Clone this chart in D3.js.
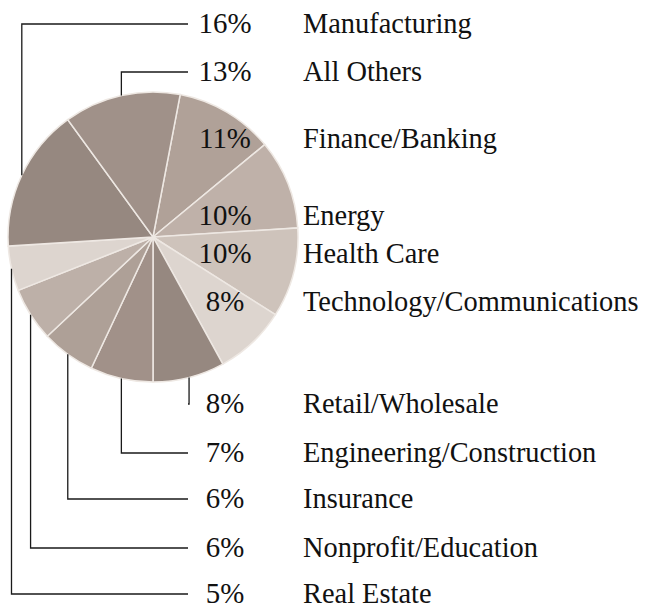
<!DOCTYPE html>
<html>
<head>
    <title>Share by Industry</title>
    <style>
        body {
            margin: 0;
            background: #fff;
        }
        .slice {
            stroke: #eee8e3;
            stroke-width: 1.5;
        }
        .leader {
            fill: none;
            stroke: #1a1a1a;
            stroke-width: 1.3;
        }
        .pct, .cat {
            font-family: "Liberation Serif", "DejaVu Serif", "Times New Roman", serif;
            fill: #111;
        }
        .pct {
            font-size: 30px;
            text-anchor: middle;
        }
        .cat {
            font-size: 28px;
        }
    </style>
</head>
<body>
    <svg id="pie-chart" width="646" height="609"></svg>

    <script src="https://d3js.org/d3.v7.min.js"></script>
    <script>
        // Slices in clockwise order, starting just right of 12 o'clock
        const categories = ['Finance/Banking', 'Energy', 'Health Care', 'Technology/Communications',
            'Retail/Wholesale', 'Engineering/Construction', 'Insurance', 'Nonprofit/Education',
            'Real Estate', 'Manufacturing', 'All Others'];
        const shares = [11, 10, 10, 8, 8, 7, 6, 6, 5, 16, 13];
        const sliceColors = ['#b0a198', '#bfb1a9', '#cec3bb', '#ddd5cf', '#968880', '#a19189',
            '#aea097', '#bdb0a8', '#ddd5cf', '#968880', '#a09189'];

        // layout: baseline of each label row, and which rows get a leader line
        const labelRows = [148, 225, 263, 311, 413, 462, 508, 557, 603, 33, 81];
        const outside = [false, false, false, false, true, true, true, true, true, true, true];

        const svg = d3.select('#pie-chart');
        const cx = 153, cy = 237, radius = 145;
        const pctX = 225, catX = 303, leaderEnd = 188;

        const slices = categories.map((c, i) => ({ category: c, share: shares[i], color: sliceColors[i], row: labelRows[i], outside: outside[i] }));

        const start = 0.03 * 2 * Math.PI;
        const pie = d3.pie().sort(null).value(d => d.share).startAngle(start).endAngle(start + 2 * Math.PI);
        const arc = d3.arc().innerRadius(0).outerRadius(radius);
        const arcs = pie(slices);

        const g = svg.append('g').attr('transform', `translate(${cx},${cy})`);

        g.selectAll('.slice')
            .data(arcs)
            .enter().append('path')
            .attr('class', 'slice')
            .attr('d', arc)
            .attr('fill', d => d.data.color);

        // leader lines: from the rim at mid angle, straight down/up, then across to the label
        svg.selectAll('.leader')
            .data(arcs.filter(d => d.data.outside))
            .enter().append('path')
            .attr('class', 'leader')
            .attr('d', d => {
                const a = (d.startAngle + d.endAngle) / 2;
                const x = cx + radius * Math.sin(a),
                    y = cy - radius * Math.cos(a);
                const ly = d.data.row - 9;
                return `M${x},${y}V${ly}H${leaderEnd}`;
            });

        const pct = svg.selectAll('.pct')
            .data(arcs)
            .enter().append('text')
            .attr('class', 'pct')
            .attr('x', pctX)
            .attr('y', d => d.data.row)
            .text(d => d.data.share + '%');

        const cat = svg.selectAll('.cat')
            .data(arcs)
            .enter().append('text')
            .attr('class', 'cat')
            .attr('x', catX)
            .attr('y', d => d.data.row)
            .text(d => d.data.category);

        // whichever serif face is installed, size it so the longest label spans like the original
        const widest = d3.max(cat.nodes(), n => n.getComputedTextLength());
        cat.style('font-size', (28 * 336 / widest).toFixed(1) + 'px');
        const pctWide = d3.max(pct.nodes(), n => n.getComputedTextLength());
        pct.style('font-size', Math.min(31, 30 * 53 / pctWide).toFixed(1) + 'px');
    </script>
</body>
</html>
